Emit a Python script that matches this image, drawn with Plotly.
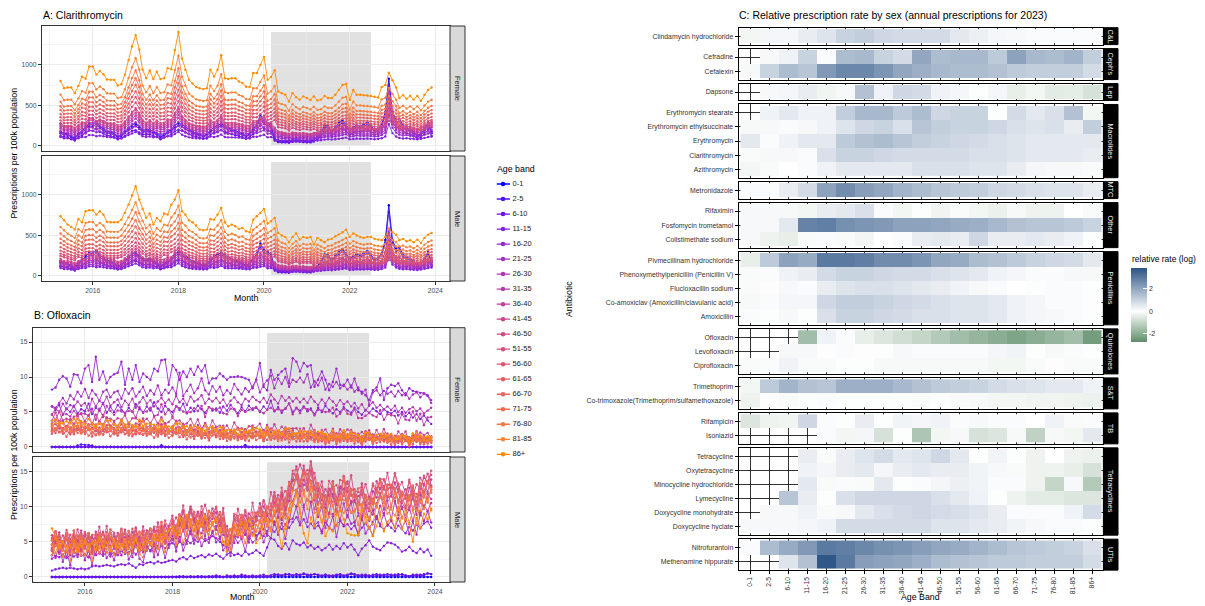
import plotly.graph_objects as go
import pandas as pd

W, H = 1205, 606
FONT = "Liberation Sans, Arial, Helvetica, sans-serif"


def fx(p):
    return p / W


def fy(p):
    return 1 - p / H


months = pd.date_range("2015-04-01", "2023-12-01", freq="MS")

age_bands = ["0-1", "2-5", "6-10", "11-15", "16-20", "21-25", "26-30", "31-35", "36-40",
             "41-45", "46-50", "51-55", "56-60", "61-65", "66-70", "71-75", "76-80", "81-85", "86+"]
band_colors = ["#0000FF", "#4A14F2", "#6A10E6", "#8420DC", "#9528CF", "#A42EC2", "#B034B4",
               "#BA3AA6", "#C23F99", "#C9448D", "#D04A84", "#D6507A", "#DC5770", "#E15E66",
               "#E7655C", "#ED6E50", "#F27844", "#F88236", "#FF8C00"]

# ---------------- Clarithromycin (prescriptions per 100k) ----------------
clar_f_86 = [800, 710, 720, 720, 650, 740, 855, 830, 980,
             980, 880, 925, 885, 820, 815, 815, 745, 760, 880, 1060, 1230,
             1370, 1190, 940, 835, 930, 825, 915, 825, 835, 960, 945, 1185,
             1410, 1080, 940, 815, 770, 725, 710, 700, 710, 940, 855, 940,
             1120, 835, 825, 835, 835, 795, 775, 730, 725, 900, 900, 1000,
             1100, 815, 850, 935, 670, 650, 630, 545, 650, 600, 570, 610,
             590, 565, 610, 560, 570, 615, 590, 590, 630, 690, 750, 764,
             566, 690, 630, 630, 625, 620, 615, 605, 595, 725, 750, 905,
             810, 720, 590, 625, 580, 615, 570, 615, 555, 630, 690, 720]
clar_m_86 = [735, 686, 632, 603, 570, 702, 661, 797, 810,
             810, 756, 797, 756, 665, 661, 661, 661, 694, 777, 880, 992,
             1107, 942, 826, 715, 769, 632, 715, 674, 769, 756, 880, 942,
             1058, 797, 756, 686, 661, 620, 570, 562, 570, 702, 694, 756,
             839, 661, 612, 632, 612, 579, 591, 550, 537, 694, 735, 777,
             826, 645, 674, 715, 529, 496, 479, 413, 479, 521, 446, 479,
             467, 479, 384, 467, 438, 413, 446, 455, 488, 508, 537, 570,
             479, 521, 496, 479, 467, 479, 479, 455, 446, 438, 479, 580,
             537, 508, 438, 455, 426, 438, 413, 446, 405, 467, 508, 529]
clar_young = [150, 130, 130, 125, 110, 130, 150, 150, 185,
              185, 165, 175, 165, 150, 145, 140, 125, 130, 155, 185, 215,
              240, 205, 165, 150, 160, 145, 155, 140, 145, 165, 165, 205,
              245, 190, 165, 145, 135, 130, 125, 120, 125, 160, 150, 165,
              195, 150, 145, 145, 145, 140, 135, 125, 125, 155, 155, 175,
              190, 145, 150, 120, 95, 90, 85, 80, 88, 85, 82, 85,
              80, 78, 85, 88, 95, 105, 110, 105, 112, 120, 130, 140,
              110, 115, 125, 120, 120, 125, 118, 112, 115, 130, 160, 380,
              220, 160, 135, 125, 130, 120, 115, 110, 120, 135, 150, 160]
clar_child = [170, 150, 150, 110, 90, 150, 180, 230, 270,
              260, 300, 240, 210, 180, 170, 150, 110, 130, 170, 220, 260,
              270, 230, 200, 190, 200, 170, 150, 110, 140, 170, 200, 250,
              280, 260, 230, 200, 170, 160, 140, 120, 140, 190, 230, 250,
              270, 240, 220, 200, 180, 170, 150, 120, 150, 200, 260, 380,
              300, 280, 250, 90, 60, 55, 55, 50, 65, 70, 65, 60,
              55, 55, 70, 110, 160, 250, 240, 180, 230, 280, 310, 260,
              200, 230, 250, 240, 260, 290, 250, 190, 210, 260, 420, 830,
              420, 320, 330, 250, 220, 200, 170, 120, 150, 200, 280, 170]
clar_groups = ["c", "c", "c", "y", "y", "y", "y", "y", "y", "y",
               "o", "o", "o", "o", "o", "o", "o", "o", "o"]
clar_f_scale = [1.0, 0.9, 0.7, 0.7, 1.0, 1.2, 1.4, 1.55, 1.7, 1.85,
                0.34, 0.39, 0.44, 0.49, 0.55, 0.61, 0.68, 0.79, 1.0]
clar_m_scale = [1.05, 0.95, 0.7, 0.62, 0.75, 0.88, 1.0, 1.12, 1.25, 1.38,
                0.33, 0.37, 0.42, 0.48, 0.55, 0.62, 0.71, 0.82, 1.0]

# ---------------- Ofloxacin (prescriptions per 100k) ----------------
oflox_f_01 = [0, 0, 0, 0, 0, 0, 0, 0, 0,
              0, 0, 0, 0, 0, 0, 0, 0, 0, 0, 0, 0,
              0, 0, 0, 0, 0, 0, 0, 0, 0, 0, 0, 0,
              0, 0, 0, 0, 0, 0, 0, 0, 0, 0, 0, 0,
              0, 0, 0, 0, 0, 0, 0, 0, 0, 0, 0, 0,
              0, 0, 0, 0, 0, 0, 0, 0, 0, 0, 0, 0,
              0, 0, 0, 0, 0, 0, 0, 0, 0, 0, 0, 0,
              0, 0, 0, 0, 0, 0, 0, 0, 0, 0, 0, 0,
              0, 0, 0, 0, 0, 0, 0, 0, 0, 0, 0, 0]
oflox_f_25 = [0, 0, 0, 0, 0, 0, 0, 0.2, 0.35,
              0.3, 0.3, 0.2, 0, 0, 0, 0, 0, 0, 0, 0, 0,
              0, 0, 0, 0, 0, 0, 0, 0, 0, 0.25, 0, 0,
              0, 0, 0, 0, 0, 0, 0, 0, 0, 0, 0, 0,
              0, 0, 0, 0, 0, 0, 0, 0, 0.3, 0, 0, 0,
              0, 0, 0, 0, 0, 0, 0, 0, 0, 0, 0, 0,
              0, 0, 0, 0, 0, 0, 0, 0, 0, 0, 0, 0,
              0, 0, 0, 0, 0, 0, 0, 0, 0, 0, 0, 0,
              0, 0, 0, 0, 0, 0, 0, 0, 0, 0, 0, 0]
oflox_f_610 = [0, 0, 0, 0, 0, 0, 0, 0, 0,
               0, 0, 0, 0, 0, 0, 0, 0, 0, 0, 0, 0,
               0, 0, 0, 0, 0, 0, 0, 0, 0, 0, 0, 0,
               0, 0, 0, 0, 0, 0, 0, 0, 0, 0, 0, 0,
               0, 0, 0, 0, 0, 0, 0, 0, 0, 0, 0, 0,
               0, 0, 0, 0, 0, 0, 0, 0, 0, 0, 0, 0,
               0, 0, 0, 0, 0, 0, 0, 0, 0, 0, 0, 0,
               0, 0, 0, 0, 0, 0, 0, 0, 0, 0, 0, 0,
               0, 0, 0, 0, 0, 0, 0, 0, 0, 0, 0, 0]
oflox_f_1115 = [5.8, 5.3, 6.0, 4.6, 5.5, 5.0, 5.9, 4.8, 5.4,
                5.1, 6.2, 4.7, 5.6, 5.2, 6.3, 4.9, 5.7, 5.0, 6.0, 5.3, 4.8,
                5.6, 5.0, 6.1, 5.4, 4.9, 5.8, 5.2, 6.4, 5.5, 5.0, 5.9, 5.3,
                5.0, 5.8, 5.3, 6.2, 4.8, 5.6, 5.1, 5.9, 5.4, 4.9, 5.7, 5.2,
                5.5, 4.9, 5.8, 5.2, 6.0, 5.4, 4.8, 5.7, 5.1, 5.9, 5.3, 5.6,
                5.0, 5.8, 5.3, 6.6, 5.1, 5.7, 4.9, 5.5, 6.2, 5.0, 5.6, 5.2,
                5.8, 5.1, 5.5, 4.7, 5.6, 5.0, 5.9, 5.3, 4.8, 5.4, 5.0, 5.7,
                5.2, 4.9, 5.6, 5.0, 4.6, 5.3, 4.9, 5.5, 5.1, 4.7, 5.4, 5.0,
                4.8, 5.2, 4.5, 5.0, 4.4, 4.9, 4.2, 4.7, 4.0, 4.5, 3.8, 3.3]
oflox_f_1620 = [8.2, 8.5, 9.6, 10.1, 9.8, 8.6, 10.4, 10.3, 9.1,
                11.2, 11.7, 9.3, 12.9, 9.6, 10.8, 9.1, 10.0, 10.4, 10.6, 12.2, 8.9,
                11.2, 9.6, 11.7, 9.3, 10.5, 10.0, 9.6, 11.2, 10.8, 12.4, 12.5, 8.9,
                11.7, 11.0, 9.6, 10.8, 10.0, 11.2, 10.3, 11.5, 10.8, 11.7, 9.1, 9.8,
                9.8, 10.5, 10.1, 9.6, 10.0, 10.0, 10.1, 10.0, 9.8, 9.6, 8.4, 9.6,
                12.0, 8.6, 8.1, 11.0, 9.6, 10.3, 10.8, 11.2, 9.1, 12.7, 12.2, 10.8,
                12.0, 11.5, 11.7, 8.6, 9.6, 10.8, 9.6, 8.1, 9.3, 11.2, 8.9, 8.7,
                9.6, 8.5, 9.8, 8.1, 7.9, 7.4, 6.7, 8.1, 8.5, 9.8, 6.7, 8.4,
                8.9, 8.7, 9.1, 8.1, 7.4, 8.4, 8.0, 7.9, 7.7, 7.7, 7.4, 6.7]
oflox_f_2125 = [5.8, 5.6, 6.3, 7.0, 6.2, 7.4, 6.8, 7.9, 7.2,
                8.3, 7.0, 8.1, 7.5, 6.6, 7.9, 8.2, 7.1, 7.8, 8.0, 6.9, 8.3,
                7.6, 8.4, 7.2, 7.9, 8.6, 7.3, 8.1, 7.5, 8.8, 7.4, 8.2, 7.7,
                8.5, 7.6, 10.6, 7.3, 8.0, 8.9, 7.7, 8.4, 9.8, 8.1, 7.5, 8.7,
                7.9, 8.6, 7.4, 8.1, 7.6, 9.0, 8.2, 7.5, 8.4, 7.9, 8.6, 9.6,
                7.8, 8.9, 9.5, 10.2, 8.4, 9.8, 9.0, 10.0, 8.6, 9.6, 9.3, 9.9,
                9.2, 10.4, 8.5, 9.4, 8.8, 9.9, 8.2, 9.0, 8.6, 9.3, 8.4, 8.9,
                8.2, 8.8, 7.9, 8.5, 7.6, 8.2, 6.0, 7.8, 8.1, 7.4, 8.0, 7.6,
                7.9, 7.2, 8.0, 7.4, 7.7, 6.9, 7.5, 7.8, 7.1, 7.6, 7.3, 6.3]
oflox_f_2630 = [4.6, 5.5, 5.0, 6.2, 5.4, 6.0, 5.7, 6.5, 5.9,
                6.3, 5.2, 6.9, 5.8, 6.6, 6.1, 7.2, 5.9, 6.4, 6.8, 5.7, 6.6,
                6.0, 6.9, 5.6, 6.4, 7.1, 6.2, 6.7, 5.8, 6.5, 7.0, 6.3, 6.8,
                6.1, 7.3, 6.4, 6.9, 6.0, 7.2, 6.5, 6.8, 7.4, 6.2, 6.9, 6.5,
                7.0, 6.3, 6.8, 5.9, 6.6, 7.1, 6.4, 6.0, 6.9, 6.5, 7.2, 6.7,
                6.4, 7.0, 6.3, 7.5, 6.8, 6.2, 7.3, 6.6, 7.1, 6.5, 7.0, 6.4,
                6.9, 6.3, 7.2, 6.5, 6.0, 6.8, 6.2, 7.0, 6.5, 5.9, 6.7, 6.1,
                6.5, 5.8, 6.3, 5.5, 6.1, 5.2, 5.9, 6.4, 5.6, 6.0, 5.4, 5.8,
                5.3, 5.9, 5.0, 5.6, 4.9, 5.4, 5.7, 5.1, 5.5, 4.8, 5.2, 5.6]
oflox_f_pack = [2.9, 2.7, 3.0, 2.8, 2.6, 2.9, 2.7, 3.1, 2.8,
                2.7, 2.9, 2.6, 2.8, 2.5, 2.7, 2.9, 2.6, 2.8, 2.5, 2.7, 2.6,
                2.5, 2.7, 2.4, 2.6, 2.8, 2.5, 2.3, 2.6, 2.4, 2.7, 2.5, 2.3,
                2.4, 2.6, 2.3, 2.5, 2.2, 2.4, 2.1, 2.3, 2.0, 2.2, 1.9, 2.1,
                2.0, 1.8, 2.1, 1.9, 1.7, 2.0, 1.8, 1.6, 1.9, 1.7, 2.0, 1.8,
                1.9, 1.7, 2.0, 1.6, 1.8, 1.5, 1.7, 1.9, 1.6, 1.8, 1.5, 1.7,
                1.6, 1.4, 1.7, 1.5, 1.3, 1.6, 1.4, 1.2, 1.5, 1.3, 1.6, 1.4,
                1.3, 1.5, 1.2, 1.4, 1.1, 1.3, 1.5, 1.2, 1.4, 1.1, 1.3, 1.2,
                1.2, 1.0, 1.3, 1.1, 1.2, 0.9, 1.1, 1.3, 1.0, 1.2, 1.1, 1.0]
oflox_f_scale = [1.5, 1.25, 1.0, 0.92, 0.82, 0.75, 0.8, 0.9, 1.0, 1.12, 1.25]  # 36-40 .. 86+

oflox_m_01 = oflox_f_01
oflox_m_25 = [0, 0, 0, 0, 0, 0, 0, 0, 0,
              0, 0, 0, 0, 0, 0, 0, 0, 0, 0, 0, 0,
              0, 0, 0, 0, 0, 0, 0, 0, 0, 0, 0, 0,
              0, 0, 0, 0, 0, 0, 0, 0, 0, 0, 0, 0,
              0, 0, 0, 0, 0, 0, 0, 0.1, 0, 0, 0, 0,
              0, 0, 0, 0, 0.2, 0.3, 0.2, 0.3, 0.4, 0.2, 0.3, 0.2,
              0.4, 0.2, 0.3, 0.4, 0.2, 0.1, 0.3, 0.2, 0.1, 0.2, 0.3, 0.1,
              0.2, 0.4, 0.3, 0.2, 0.1, 0.3, 0.2, 0.1, 0.2, 0.3, 0.2, 0.1,
              0.2, 0.3, 0.2, 0.4, 0.2, 0.1, 0.2, 0.3, 0.2, 0.4, 0.5, 0.4]
oflox_m_610 = [0, 0, 0, 0, 0, 0, 0, 0, 0,
               0, 0, 0, 0, 0, 0, 0, 0, 0, 0, 0, 0,
               0, 0, 0, 0, 0, 0, 0, 0, 0, 0, 0, 0,
               0, 0, 0.1, 0.1, 0, 0.1, 0, 0.1, 0.1, 0, 0.1, 0.1,
               0.2, 0.1, 0, 0.2, 0.1, 0.2, 0.1, 0.3, 0.2, 0.1, 0.2, 0.1,
               0.2, 0.3, 0.1, 0.2, 0.4, 0.3, 0.2, 0.4, 0.3, 0.2, 0.4, 0.3,
               0.5, 0.3, 0.2, 0.4, 0.3, 0.2, 0.3, 0.1, 0.2, 0.3, 0.4, 0.2,
               0.3, 0.5, 0.4, 0.2, 0.3, 0.2, 0.1, 0.3, 0.4, 0.2, 0.3, 0.4,
               0.3, 0.2, 0.4, 0.3, 0.2, 0.1, 0.3, 0.2, 0.3, 0.2, 0.5, 0.4]
oflox_m_1115 = [0.9, 1.1, 1.2, 1.3, 1.2, 1.3, 1.2, 1.1, 1.2,
                1.1, 1.2, 1.5, 1.6, 1.5, 1.6, 1.7, 1.6, 1.5, 1.7, 1.8, 1.7,
                1.9, 1.6, 1.3, 1.8, 1.7, 2.0, 2.1, 1.9, 2.2, 2.0, 2.1, 2.3,
                2.4, 2.2, 2.6, 2.8, 2.5, 3.0, 2.7, 2.9, 3.1, 2.8, 3.2, 3.0,
                3.3, 2.9, 2.6, 3.2, 3.5, 3.1, 3.3, 3.0, 3.6, 3.2, 3.4, 3.8,
                3.4, 3.0, 4.2, 5.5, 5.3, 4.4, 4.0, 4.8, 3.9, 5.2, 4.7, 4.5,
                4.9, 4.2, 4.5, 4.0, 4.3, 3.8, 4.1, 4.6, 3.9, 4.4, 4.0, 4.8,
                4.2, 4.6, 3.9, 3.1, 4.0, 4.5, 5.2, 4.3, 4.0, 3.8, 4.4, 4.9,
                4.8, 4.6, 4.2, 3.6, 3.8, 4.3, 3.7, 3.4, 4.0, 3.5, 3.9, 3.0]
oflox_m_1620 = [2.6, 3.0, 2.8, 3.2, 2.7, 3.1, 2.9, 3.3, 3.0,
                3.2, 2.8, 3.5, 3.1, 3.4, 3.0, 3.6, 3.2, 3.4, 3.1, 3.7, 3.3,
                3.5, 3.8, 3.2, 3.9, 3.6, 4.2, 3.8, 4.4, 4.0, 4.5, 4.1, 4.7,
                4.8, 4.3, 5.0, 4.6, 5.2, 4.8, 5.3, 5.0, 5.6, 5.1, 5.4, 5.8,
                5.5, 5.0, 4.5, 4.2, 5.3, 5.8, 6.2, 5.6, 6.0, 5.4, 6.3, 5.9,
                6.2, 5.8, 6.5, 7.0, 6.4, 7.2, 6.8, 7.5, 7.0, 7.8, 8.5, 7.4,
                8.2, 7.1, 7.6, 6.9, 7.3, 6.5, 7.8, 7.0, 6.6, 7.4, 8.0, 7.2,
                7.5, 6.8, 7.3, 6.2, 7.0, 7.6, 6.9, 7.8, 8.5, 7.2, 6.8, 7.5,
                7.0, 6.5, 7.3, 6.8, 6.2, 7.1, 6.6, 7.4, 6.9, 7.6, 7.9, 7.0]
oflox_m_86 = [6.9, 5.5, 4.2, 5.0, 3.8, 4.5, 5.2, 3.6, 4.4,
              5.0, 4.0, 4.8, 3.9, 5.5, 4.3, 4.9, 3.7, 5.2, 4.2, 4.7, 3.5,
              5.0, 4.1, 5.3, 3.8, 4.6, 5.6, 4.8, 5.9, 5.2, 6.1, 5.5, 6.6,
              7.2, 6.0, 8.4, 7.0, 8.8, 7.5, 6.8, 8.0, 7.3, 8.6, 7.2, 7.8,
              8.2, 6.5, 5.0, 3.6, 6.8, 7.4, 6.2, 7.8, 6.9, 8.0, 7.1, 4.8,
              5.5, 7.8, 8.2, 6.5, 9.5, 7.0, 4.2, 6.8, 8.5, 10.5, 11.8, 9.0,
              6.2, 4.8, 8.5, 7.2, 9.8, 8.0, 5.8, 7.0, 6.5, 8.8, 9.5, 8.2,
              6.2, 6.0, 5.9, 6.0, 9.5, 8.5, 7.0, 5.8, 7.2, 8.8, 6.5, 7.8,
              8.5, 7.0, 9.8, 6.8, 8.2, 7.5, 5.0, 8.4, 7.0, 9.0, 8.2, 9.7]
oflox_m_pack = [4.7, 4.9, 4.6, 4.8, 5.0, 4.6, 4.9, 4.8, 5.0,
                4.9, 5.2, 4.8, 5.0, 5.3, 4.7, 5.1, 4.9, 5.4, 5.0, 5.2, 4.8,
                5.3, 5.0, 5.4, 4.7, 5.2, 5.5, 5.8, 5.4, 6.0, 6.2, 5.9, 6.4,
                6.8, 6.5, 7.4, 8.0, 7.6, 8.3, 7.9, 7.5, 8.2, 7.8, 8.4, 7.6,
                8.0, 7.4, 7.8, 6.2, 5.8, 6.9, 7.6, 7.2, 7.9, 7.4, 8.2, 7.8,
                8.6, 9.0, 8.8, 9.4, 9.9, 9.6, 10.3, 10.0, 11.5, 12.8, 13.6, 13.2,
                14.0, 13.1, 13.8, 12.0, 11.5, 11.2, 10.6, 11.0, 11.8, 10.9, 11.6, 12.2,
                11.3, 11.7, 11.0, 10.5, 11.2, 10.4, 10.2, 11.0, 11.8, 12.0, 11.4, 12.3,
                11.8, 12.4, 11.6, 11.0, 10.6, 11.5, 11.2, 10.4, 11.8, 12.3, 12.8, 12.5]
oflox_m_scale = [0.66, 0.8, 0.9, 1.0, 1.08, 1.12, 1.04, 1.1, 1.0, 0.95, 1.03, 0.88, 0.8]  # 21-25 .. 81-85

# month-to-month jaggedness of the ofloxacin lines (tenths of a unit)
oflox_w1 = [5, -3, 8, -6, 2, -8, 4, -2, 7,
            -5, 3, -9, 6, -1, 8, -4, 2, -7, 5, -2, 9,
            -6, 1, 7, -3, -8, 4, -1, 6, -5, 3, -7, 2,
            8, -4, 5, -9, 1, 6, -3, 7, -6, 2, -4, 9,
            -2, 5, -8, 3, -5, 7, -1, 4, -9, 6, -3, 1,
            7, -6, 2, -4, 8, -2, 5, -7, 3, -1, 6, -8,
            4, -5, 9, -3, 1, -7, 6, -2, 5, -9, 2, -4,
            8, -1, 3, -6, 7, -4, 2, -8, 5, -3, 9, -5,
            1, -7, 4, -2, 6, -9, 3, -5, 8, -1, 5, -3]
oflox_w2 = [-4, 6, -1, 3, -7, 5, -3, 8, -2,
            4, -8, 2, -5, 7, -3, 9, -6, 1, -4, 6, -2,
            3, -7, 5, -1, 8, -4, 2, -9, 6, -3, 4, -6,
            -1, 7, -5, 3, -8, 2, -6, 4, -2, 9, -7, 1,
            5, -3, 6, -8, 2, -4, 7, -1, 3, -6, 8, -5,
            -2, 4, -7, 9, -3, 5, -1, 6, -8, 2, -5, 7,
            -6, 3, -2, 8, -4, 6, -9, 1, -3, 5, -7, 4,
            -3, 8, -6, 2, -5, 9, -1, 4, -7, 3, -2, 6,
            -8, 5, -3, 7, -1, 4, -6, 9, -4, 2, -5, 3]
oflox_w3 = [2, 8, -5, -1, 6, -4, 9, -7, 3,
            -2, 5, 1, -8, 4, -6, 3, 7, -5, -1, 8, -3,
            6, -4, -2, 9, -7, 3, 5, -1, -6, 8, -3, 1,
            -5, 2, 7, -4, 3, -8, 6, -2, 1, -7, 4, 5,
            -3, 9, -6, 1, 4, -2, -7, 8, -5, 3, -1, 6,
            2, -8, 5, -3, -1, 7, -6, 4, 9, -5, 1, -2,
            3, 6, -4, -7, 8, -1, 2, -5, 7, -3, -6, 9,
            -4, 1, 6, -2, -8, 5, 3, -6, -1, 7, -4, 2,
            5, -2, -7, 4, 1, -5, 8, -3, 6, -8, 2, -1]
oflox_w4 = [-6, 1, 4, -3, 7, 2, -5, 3, -8,
            6, -2, 4, 3, -7, 1, -3, 8, 2, -6, -1, 5,
            -4, 8, -3, 2, 5, -6, -2, 7, 3, -5, 9, -1,
            2, -6, -1, 8, -4, 5, 3, -7, 6, -2, -5, 4,
            7, -1, 3, -5, -6, 8, 2, -4, 5, 1, -8, 3,
            -5, 6, 1, -2, 4, -7, 8, -3, -4, 6, 2, -6,
            -1, -4, 7, 5, -6, 3, -8, 9, -2, -4, 6, 1,
            5, -7, -2, 6, 3, -1, -5, 7, -3, 4, 8, -6,
            -2, 6, 3, -8, -3, 7, -1, 2, -6, 5, -4, 8]

# ---------------- Heatmap: relative rate (log), columns = age bands ----------------
hm_classes = ["C&L", "Ceph's", "Lep", "Macrolides", "MTC", "Other", "Penicillins",
              "Quinolones", "S&T", "TB", "Tetracyclines", "UTIs"]
hm_cl_drugs = ["Clindamycin hydrochloride"]
hm_cl = [[-0.2, 0.2, 0.2, 0.4, 0.6, 1.0, 1.1, 0.9, 0.8, 0.8, 0.8, 0.5, 0.35, 0.2, 0.15, 0.1, 0.1, 0.1, 0.1]]
hm_ceph_drugs = ["Cefradine", "Cefalexin"]
hm_ceph = [[None, 0.15, 0.3, 1.0, 0.1, 1.5, 1.6, 1.0, 0.8, 2.0, 1.5, 1.6, 1.6, 1.2, 2.1, 1.6, 1.5, 1.7, 1.1],
           [-0.15, 1.0, 1.5, 1.3, 2.3, 2.7, 2.7, 2.4, 2.0, 1.8, 1.6, 1.5, 1.5, 1.4, 1.2, 1.1, 1.1, 1.1, 0.8]]
hm_lep_drugs = ["Dapsone"]
hm_lep = [[None, 0.15, 0.2, 0.4, -0.25, 0.15, 1.4, 0.3, 0.9, 0.8, 0.3, 0.2, 0.05, 0.2, -0.4, -0.2, -0.5, -0.45, -0.7]]
hm_mac_drugs = ["Erythromycin stearate", "Erythromycin ethylsuccinate", "Erythromycin",
                "Clarithromycin", "Azithromycin"]
hm_mac = [[None, 0.3, 0.5, 0.3, 0.3, 1.1, 1.6, 1.6, 1.2, 1.5, 0.9, 1.0, 1.0, 0.05, 0.8, 0.5, 0.7, 1.4, -0.2],
          [-0.15, 0.15, 0.1, 0.15, 0.3, 0.6, 0.9, 1.0, 0.7, 1.3, 1.1, 1.0, 1.0, 0.9, 0.7, 0.6, 0.7, 0.4, 1.1],
          [0.5, 0.1, 0.3, 0.5, 0.5, 1.2, 1.4, 1.5, 1.3, 1.1, 1.0, 0.9, 0.8, 0.7, 0.6, 0.5, 0.5, 0.5, 0.5],
          [-0.1, 0.15, 0.15, 0.1, 0.7, 1.0, 1.0, 0.9, 0.8, 0.8, 0.8, 0.8, 0.7, 0.7, 0.6, 0.5, 0.5, 0.5, 0.4],
          [-0.2, -0.1, 0.0, 0.1, 0.3, 0.5, 0.5, 0.5, 0.5, 0.7, 0.7, 0.7, 0.6, 0.6, 0.4, 0.2, 0.15, 0.15, -0.1]]
hm_mtc_drugs = ["Metronidazole"]
hm_mtc = [[0.1, 0.1, 0.4, 0.8, 2.1, 2.6, 2.2, 2.0, 1.7, 1.5, 1.3, 1.2, 1.1, 0.9, 0.8, 0.7, 0.6, 0.6, 0.4]]
hm_oth_drugs = ["Rifaximin", "Fosfomycin trometamol", "Colistimethate sodium"]
hm_oth = [[0.15, 0.15, -0.15, -0.2, 0.4, 0.5, 0.7, 0.1, -0.2, 0.05, -0.25, -0.1, -0.2, -0.35, -0.15, -0.3, -0.3, 0.0, -0.1],
          [0.15, 0.15, 0.5, 2.8, 2.9, 2.5, 2.4, 2.3, 2.1, 2.1, 2.0, 1.9, 1.8, 1.6, 1.4, 1.3, 1.3, 1.2, 1.0],
          [0.15, -0.3, -0.4, -0.1, 0.1, -0.1, -0.2, 0.0, 0.1, 0.4, 0.5, 0.4, 0.9, 0.4, 0.4, 0.5, 0.4, 0.3, 0.05]]
hm_pen_drugs = ["Pivmecillinam hydrochloride", "Phenoxymethylpenicillin (Penicillin V)",
                "Flucloxacillin sodium", "Co-amoxiclav (Amoxicillin/clavulanic acid)", "Amoxicillin"]
hm_pen = [[-0.4, 1.2, 2.1, 1.9, 3.0, 3.0, 2.9, 2.6, 2.6, 2.4, 2.0, 1.9, 1.5, 1.4, 1.2, 1.0, 0.9, 0.8, 0.5],
          [-0.1, 0.1, 0.3, 0.4, 0.8, 1.0, 1.0, 0.9, 0.8, 0.8, 0.7, 0.6, 0.5, 0.3, 0.2, 0.1, 0.1, 0.15, -0.15],
          [-0.1, -0.05, 0.15, 0.1, 0.4, 0.6, 0.7, 0.7, 0.6, 0.5, 0.4, 0.3, 0.15, 0.1, 0.0, 0.05, 0.1, 0.1, 0.05],
          [-0.15, 0.1, 0.2, 0.2, 0.9, 1.1, 1.1, 1.0, 0.9, 0.8, 0.7, 0.6, 0.6, 0.5, 0.3, 0.2, 0.1, 0.1, -0.05],
          [0.1, 0.05, 0.15, 0.05, 0.7, 1.0, 1.0, 0.9, 0.8, 0.7, 0.7, 0.6, 0.6, 0.5, 0.3, 0.2, 0.15, 0.1, 0.05]]
hm_qui_drugs = ["Ofloxacin", "Levofloxacin", "Ciprofloxacin"]
hm_qui = [[None, None, None, -1.6, 0.3, 0.1, -0.4, -0.6, -0.8, -1.0, -1.3, -1.6, -1.8, -2.0, -2.2, -2.0, -1.8, -1.6, -2.4],
          [None, None, 0.15, 0.15, -0.05, 0.1, -0.05, 0.05, 0.15, 0.1, 0.1, 0.1, 0.1, 0.2, 0.25, 0.05, -0.15, 0.1, 0.05],
          [-0.1, 0.1, 0.3, -0.1, -0.1, 0.05, 0.05, -0.15, -0.15, -0.15, -0.15, -0.15, -0.15, -0.2, -0.2, -0.1, -0.05, -0.1, -0.1]]
hm_st_drugs = ["Trimethoprim", "Co-trimoxazole(Trimethoprim/sulfamethoxazole)"]
hm_st = [[-0.2, 1.2, 1.7, 1.4, 1.3, 1.8, 1.8, 1.8, 1.6, 1.4, 1.2, 1.1, 1.0, 0.8, 0.7, 0.6, 0.5, 0.5, 0.3],
         [-0.3, -0.05, -0.1, 0.05, 0.1, 0.05, 0.05, 0.05, 0.05, -0.1, 0.05, -0.1, -0.15, -0.2, -0.2, -0.25, -0.25, -0.3, -0.35]]
hm_tb_drugs = ["Rifampicin", "Isoniazid"]
hm_tb = [[-0.6, -0.3, -0.25, 0.9, 0.1, 0.05, 0.4, 0.05, 0.25, 0.2, 0.3, 0.1, 0.15, 0.1, 0.1, 0.0, 0.3, -0.1, 0.1],
         [None, None, None, None, 0.1, -0.2, 0.2, -0.7, 0.05, -1.4, -0.2, 0.15, -0.7, -0.6, -0.15, -1.1, -0.15, -0.2, 0.5]]
hm_tet_drugs = ["Tetracycline", "Oxytetracycline", "Minocycline hydrochloride", "Lymecycline",
                "Doxycycline monohydrate", "Doxycycline hyclate"]
hm_tet = [[None, None, None, 0.4, -0.1, 0.4, 0.6, 0.8, 0.5, 0.6, 0.9, 0.5, 0.05, 0.25, 0.05, -0.3, 0.0, -0.3, -0.35],
          [None, None, None, 0.3, 0.2, 0.4, 0.5, 0.2, 0.4, 0.5, 0.4, 0.4, 0.25, 0.15, -0.1, -0.3, -0.3, -0.4, -0.7],
          [None, None, None, 0.5, -0.1, 0.1, -0.1, 0.5, 0.05, 0.1, 0.2, 0.35, 0.25, 0.1, 0.1, -0.3, -1.0, 0.15, -1.3],
          [None, None, 1.3, 0.4, 0.05, 0.7, 0.9, 0.9, 0.9, 0.9, 0.7, 0.5, 0.3, 0.05, -0.3, -0.5, -0.5, -0.6, -0.6],
          [None, 0.15, 0.15, 0.3, -0.1, 0.15, 0.5, 0.7, 0.8, 0.9, 0.8, 0.75, 0.6, 0.4, 0.1, 0.1, 0.1, 0.3, 0.8],
          [0.15, 0.15, 0.15, 0.2, 0.3, 0.8, 0.8, 0.8, 0.8, 0.8, 0.6, 0.6, 0.5, 0.4, 0.25, 0.15, 0.1, 0.1, 0.05]]
hm_uti_drugs = ["Nitrofurantoin", "Methenamine hippurate"]
hm_uti = [[0.1, 1.5, 1.9, 2.3, 3.0, 2.9, 2.7, 2.5, 2.4, 2.2, 2.0, 1.9, 1.7, 1.5, 1.3, 1.2, 1.1, 1.0, 0.7],
          [None, None, 0.6, 1.4, 3.8, 3.0, 2.2, 2.1, 2.0, 1.8, 1.5, 1.4, 1.3, 1.2, 1.2, 1.1, 1.1, 1.1, 0.8]]

hm_drugs = [hm_cl_drugs, hm_ceph_drugs, hm_lep_drugs, hm_mac_drugs, hm_mtc_drugs, hm_oth_drugs,
            hm_pen_drugs, hm_qui_drugs, hm_st_drugs, hm_tb_drugs, hm_tet_drugs, hm_uti_drugs]
hm_values = [hm_cl, hm_ceph, hm_lep, hm_mac, hm_mtc, hm_oth, hm_pen, hm_qui, hm_st, hm_tb, hm_tet, hm_uti]
hm_zmin, hm_zmax = -2.76, 3.88
hm_tickvals = [-2, 0, 2]

# ---------------- build the series ----------------
def clar_series(old, scale):
    refs = {"c": clar_child, "y": clar_young, "o": old}
    return [[v * scale[b] for v in refs[clar_groups[b]]] for b in range(19)]


clar_f = clar_series(clar_f_86, clar_f_scale)
clar_m = clar_series(clar_m_86, clar_m_scale)

wig = [oflox_w1, oflox_w2, oflox_w3, oflox_w4]
of_f = [oflox_f_01, oflox_f_25, oflox_f_610, oflox_f_1115, oflox_f_1620, oflox_f_2125, oflox_f_2630]
of_f.append([max(0.0, 0.78 * a + 0.08 * w) for a, w in zip(oflox_f_2630, oflox_w3)])
for j, s in enumerate(oflox_f_scale):
    of_f.append([max(0.0, p * s + 0.07 * w) for p, w in zip(oflox_f_pack, wig[j % 4])])

of_m = [oflox_m_01, oflox_m_25, oflox_m_610, oflox_m_1115, oflox_m_1620]
for j, s in enumerate(oflox_m_scale):
    of_m.append([max(0.0, p * s + 0.17 * w) for p, w in zip(oflox_m_pack, wig[j % 4])])
of_m.append(oflox_m_86)

fig = go.Figure()

panels = [(clar_f, ""), (clar_m, "2"), (of_f, "3"), (of_m, "4")]
for data, sfx in panels:
    for b in range(19):
        fig.add_trace(go.Scatter(
            x=months, y=data[b], mode="lines+markers",
            line=dict(color=band_colors[b], width=0.9),
            marker=dict(size=2.4, color=band_colors[b]),
            xaxis="x" + sfx, yaxis="y" + sfx, showlegend=False, hoverinfo="skip"))

# legend keys (drawn on their own hidden axes)
for b in range(19):
    fig.add_trace(go.Scatter(x=[6.7, 20], y=[b, b], mode="lines",
                             line=dict(color=band_colors[b], width=1.3),
                             xaxis="x5", yaxis="y5", showlegend=False, hoverinfo="skip"))
fig.add_trace(go.Scatter(x=[13] * 19, y=list(range(19)), mode="markers",
                         marker=dict(color=band_colors, size=4.5),
                         xaxis="x5", yaxis="y5", showlegend=False, hoverinfo="skip"))
fig.add_trace(go.Scatter(x=[22.5] * 19, y=list(range(19)), mode="text", text=age_bands,
                         textposition="middle right",
                         textfont=dict(size=7.5, color="#1A1A1A", family=FONT),
                         xaxis="x5", yaxis="y5", showlegend=False, hoverinfo="skip",
                         cliponaxis=False))

layout = {}
shapes = []
annotations = []

GRID = "#EBEBEB"
BORDER = "#333333"
TICKFONT = dict(size=6.8, color="#4D4D4D", family=FONT)
xr = ["2014-10-25", "2024-05-06"]

left_panels = [
    ("", 42, 450, 26, 151, [-68, 1483], 500, 1410, False, "Female"),
    ("2", 42, 450, 156, 281, [-68, 1483], 500, 1410, True, "Male"),
    ("3", 33, 450, 327.7, 452, [-0.72, 17.05], 5, 16.3, False, "Female"),
    ("4", 33, 450, 457, 582, [-0.72, 17.05], 5, 16.3, True, "Male"),
]
for sfx, x0, x1, top, bot, yr, ydt, rtop, showx, strip in left_panels:
    layout["xaxis" + sfx] = dict(
        domain=[fx(x0), fx(x1)], range=xr, type="date", anchor="y" + sfx,
        dtick="M24", tick0="2016-01-01", tickformat="%Y",
        showticklabels=showx, ticks="outside" if showx else "", ticklen=3, tickcolor=BORDER,
        tickfont=TICKFONT, showgrid=True, gridcolor=GRID, gridwidth=1,
        minor=dict(dtick="M12", tick0="2015-01-01", showgrid=True, gridcolor=GRID, gridwidth=0.5),
        showline=True, mirror=True, linecolor=BORDER, linewidth=1, zeroline=False)
    layout["yaxis" + sfx] = dict(
        domain=[fy(bot), fy(top)], range=yr, anchor="x" + sfx,
        dtick=ydt, tick0=0, ticks="outside", ticklen=3, tickcolor=BORDER, tickfont=TICKFONT,
        showgrid=True, gridcolor=GRID, gridwidth=1,
        minor=dict(dtick=ydt / 2, tick0=0, showgrid=True, gridcolor=GRID, gridwidth=0.5),
        showline=True, mirror=True, linecolor=BORDER, linewidth=1, zeroline=False)
    shapes.append(dict(type="rect", xref="x" + sfx, yref="y" + sfx,
                       x0="2020-03-01", x1="2022-07-01", y0=0, y1=rtop,
                       fillcolor="rgba(165,165,165,0.33)", line=dict(width=0), layer="below"))
    shapes.append(dict(type="rect", xref="paper", yref="paper",
                       x0=fx(x1), x1=fx(465), y0=fy(bot), y1=fy(top),
                       fillcolor="#D9D9D9", line=dict(color=BORDER, width=1), layer="above"))
    annotations.append(dict(text=strip, x=fx(457.5), y=fy((top + bot) / 2), xref="paper", yref="paper",
                            xanchor="center", yanchor="middle",
                            showarrow=False, textangle=90,
                            font=dict(size=7.5, color="#1A1A1A", family=FONT)))

layout["xaxis5"] = dict(domain=[fx(490), fx(560)], range=[0, 70], visible=False, anchor="y5")
layout["yaxis5"] = dict(domain=[fy(461.8), fy(176.5)], range=[18.5, -0.5], visible=False, anchor="x5")

# heatmap panels
p0 = (0 - hm_zmin) / (hm_zmax - hm_zmin)
colorscale = [[0, "#5E8E6A"], [p0, "#FFFFFF"], [1, "#2B5385"]]
hm_top0, hm_unit, hm_gap = 27.7, 14.08, 4.0
hx0, hx1 = 738.6, 1103.4
rows_before = 0
nclass = len(hm_classes)
for k in range(nclass):
    drugs = hm_drugs[k]
    vals = hm_values[k]
    n = len(drugs)
    top = hm_top0 + hm_unit * (rows_before + 0.2 * k) + hm_gap * k
    bot = top + hm_unit * (n + 0.2)
    rows_before += n
    ax = str(6 + k)
    last = (k == nclass - 1)
    fig.add_trace(go.Heatmap(
        z=vals, x=list(range(19)), y=list(range(n)), xaxis="x" + ax, yaxis="y" + ax,
        colorscale=colorscale, zmin=hm_zmin, zmax=hm_zmax, hoverongaps=False,
        showscale=(k == 0),
        colorbar=dict(x=fx(1131), xanchor="left", y=fy(305), yanchor="middle",
                      len=74, lenmode="pixels", thickness=16, thicknessmode="pixels",
                      xpad=0, ypad=0, outlinewidth=0, tickvals=hm_tickvals,
                      ticktext=[str(t) for t in hm_tickvals], ticks="inside", ticklen=4,
                      tickcolor="white", tickfont=dict(size=7, color="#333333", family=FONT))))
    layout["xaxis" + ax] = dict(
        domain=[fx(hx0), fx(hx1)], range=[-0.6, 18.6], anchor="y" + ax,
        tickvals=list(range(19)), ticktext=age_bands, showticklabels=last, tickangle=-90,
        ticks="outside" if last else "", ticklen=3, tickcolor="black",
        tickfont=dict(size=6.8, color="#333333", family=FONT),
        showgrid=True, gridcolor="black", gridwidth=0.8,
        showline=True, mirror=True, linecolor="black", linewidth=1, zeroline=False)
    layout["yaxis" + ax] = dict(
        domain=[fy(bot), fy(top)], range=[n - 0.4, -0.6], anchor="x" + ax,
        tickvals=list(range(n)), ticktext=drugs, ticks="outside", ticklen=3, tickcolor="black",
        tickfont=dict(size=6.9, color="#333333", family=FONT),
        showgrid=True, gridcolor="black", gridwidth=0.8,
        showline=True, mirror=True, linecolor="black", linewidth=1, zeroline=False)
    shapes.append(dict(type="rect", xref="paper", yref="paper",
                       x0=fx(hx1), x1=fx(1118), y0=fy(bot), y1=fy(top),
                       fillcolor="black", line=dict(color="black", width=1), layer="above"))
    annotations.append(dict(text=hm_classes[k], x=fx(1110.7), y=fy((top + bot) / 2),
                            xref="paper", yref="paper", xanchor="center", yanchor="middle",
                            showarrow=False, textangle=90,
                            font=dict(size=7.4, color="#F2F2F2", family=FONT)))


def note(text, x, y, size, xanchor="center", angle=0, color="#000000"):
    annotations.append(dict(text=text, x=fx(x), y=fy(y), xref="paper", yref="paper",
                            showarrow=False, xanchor=xanchor, yanchor="middle", textangle=angle,
                            font=dict(size=size, color=color, family=FONT)))


note("A: Clarithromycin", 41, 15, 10.5, "left")
note("B: Ofloxacin", 32, 315, 10.5, "left")
note("C: Relative prescription rate by sex (annual prescriptions for 2023)", 737, 15, 10.5, "left")
note("Month", 246, 298, 8.8)
note("Month", 242, 597, 8.8)
note("Prescriptions per 100k population", 14, 153.5, 8.8, angle=-90)
note("Prescriptions per 100k population", 14, 455, 8.8, angle=-90)
note("Antibiotic", 569, 299, 8.8, angle=-90)
note("Age Band", 921, 597, 8.8)
note("Age band", 495, 169, 8.8, "left")
note("relative rate (log)", 1130, 259, 8.5, "left")

fig.update_layout(
    width=W, height=H, margin=dict(l=0, r=0, t=0, b=0), autosize=False,
    paper_bgcolor="white", plot_bgcolor="white",
    font=dict(family=FONT, color="#1A1A1A"),
    shapes=shapes, annotations=annotations, showlegend=False, **layout)

fig.write_html("out.html", config={"displayModeBar": False, "staticPlot": True},
               post_script="document.body.style.margin='0px';")
